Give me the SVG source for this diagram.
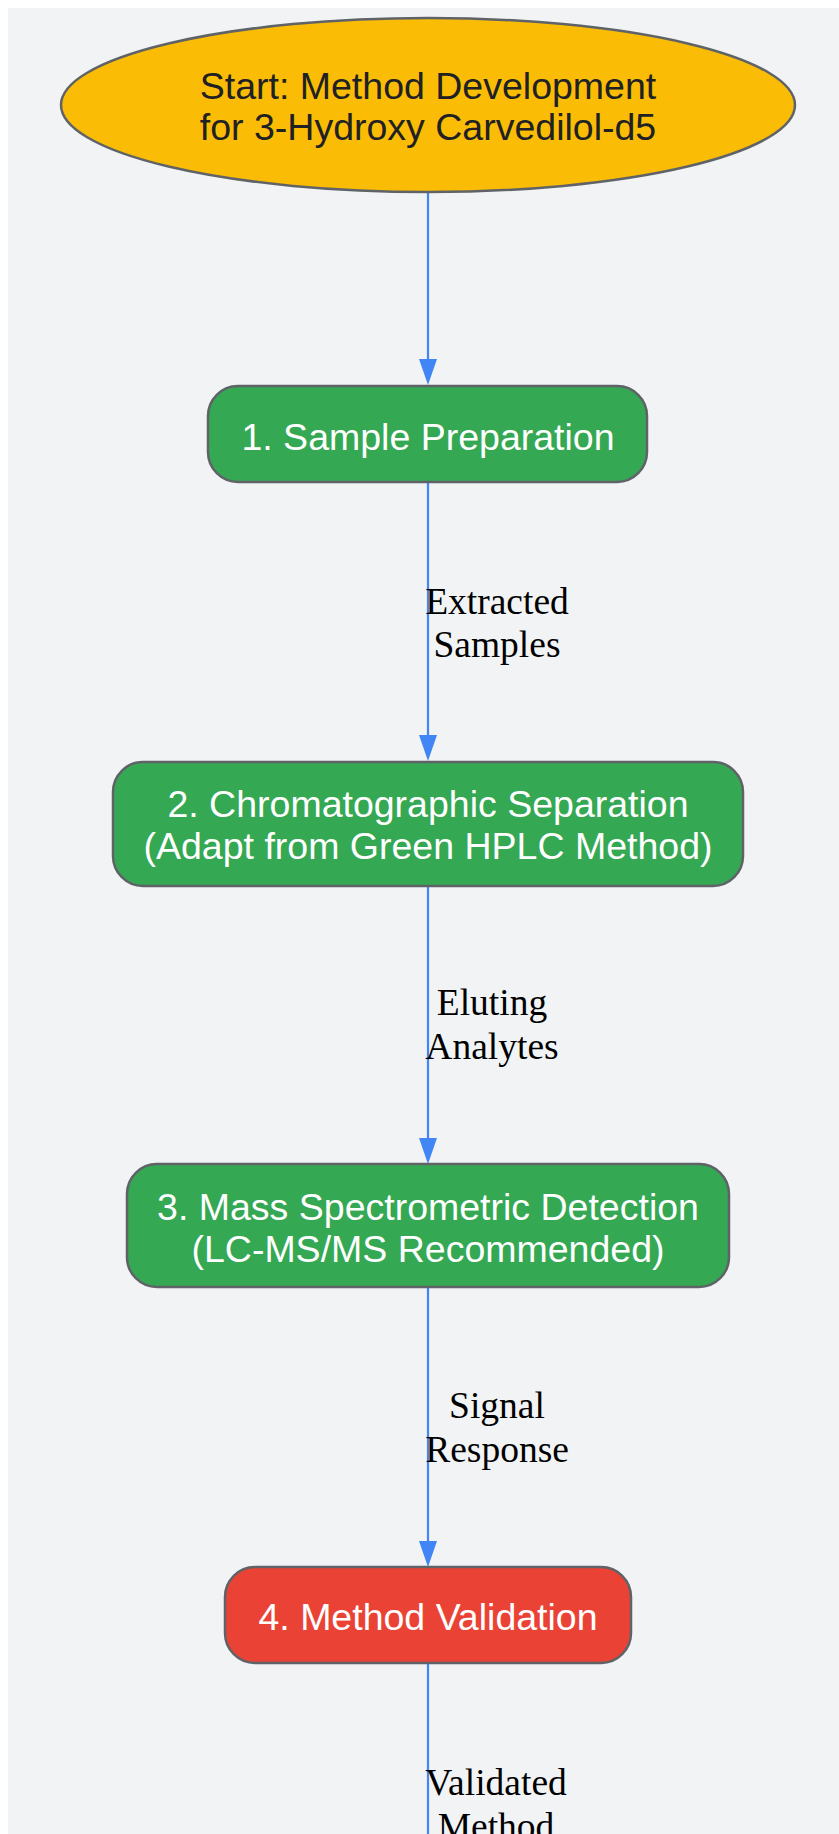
<svg xmlns="http://www.w3.org/2000/svg" width="839" height="1834" viewBox="0 0 839 1834">
<defs>
<style>
.node{stroke:#5f6368;stroke-width:2.5}
.ntext{font-family:"Liberation Sans",Arial,sans-serif;font-size:37.5px;text-anchor:middle}
.edge{stroke:#4285F4;stroke-width:2.2;fill:none}
.ahead{fill:#4285F4}
.elabel{font-family:"Liberation Serif","Times New Roman",serif;font-size:37.5px;text-anchor:middle;fill:#000}
</style>
</defs>
<rect x="8" y="8" width="831" height="1826" fill="#F1F3F4"/>
<g id="connectors">
<line class="edge" x1="428" y1="192" x2="428" y2="361"/>
<path class="ahead" d="M419,359 L437,359 L428,385 Z"/>
<line class="edge" x1="428" y1="482" x2="428" y2="737"/>
<path class="ahead" d="M419,735 L437,735 L428,761 Z"/>
<text class="elabel" x="497" y="614">Extracted</text>
<text class="elabel" x="497" y="657">Samples</text>
<line class="edge" x1="428" y1="886" x2="428" y2="1140"/>
<path class="ahead" d="M419,1138 L437,1138 L428,1164 Z"/>
<text class="elabel" x="492" y="1015">Eluting</text>
<text class="elabel" x="492" y="1059">Analytes</text>
<line class="edge" x1="428" y1="1287" x2="428" y2="1543"/>
<path class="ahead" d="M419,1541 L437,1541 L428,1567 Z"/>
<text class="elabel" x="497" y="1418">Signal</text>
<text class="elabel" x="497" y="1462">Response</text>
<line class="edge" x1="428" y1="1663" x2="428" y2="1834"/>
<text class="elabel" x="496" y="1795">Validated</text>
<text class="elabel" x="496" y="1839">Method</text>
</g>
<g id="start">
<ellipse class="node" cx="428" cy="105" rx="367" ry="87" fill="#FBBC05"/>
<text class="ntext" x="428" y="99" fill="#202124">Start: Method Development</text>
<text class="ntext" x="428" y="140" fill="#202124">for 3-Hydroxy Carvedilol-d5</text>
</g>
<g id="sample_prep">
<rect class="node" x="208" y="386" width="439" height="96" rx="30" fill="#34A853"/>
<text class="ntext" x="428" y="450" fill="#fff">1. Sample Preparation</text>
</g>
<g id="chrom_sep">
<rect class="node" x="113" y="762" width="630" height="124" rx="30" fill="#34A853"/>
<text class="ntext" x="428" y="817" fill="#fff">2. Chromatographic Separation</text>
<text class="ntext" x="428" y="859" fill="#fff">(Adapt from Green HPLC Method)</text>
</g>
<g id="ms_detect">
<rect class="node" x="127" y="1164" width="602" height="123" rx="30" fill="#34A853"/>
<text class="ntext" x="428" y="1220" fill="#fff">3. Mass Spectrometric Detection</text>
<text class="ntext" x="428" y="1262" fill="#fff">(LC-MS/MS Recommended)</text>
</g>
<g id="validation">
<rect class="node" x="225" y="1567" width="406" height="96" rx="30" fill="#EA4335"/>
<text class="ntext" x="428" y="1630" fill="#fff">4. Method Validation</text>
</g>
</svg>
